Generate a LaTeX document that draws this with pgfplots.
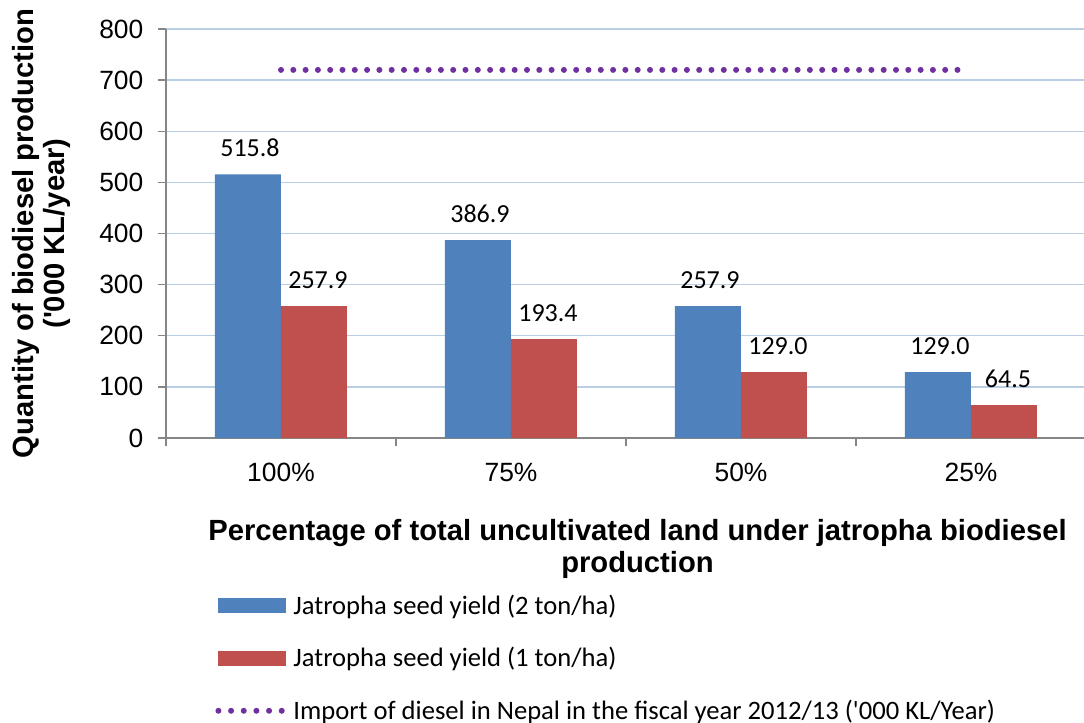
\documentclass[border=0pt]{standalone}
\usepackage{fontspec}
\setmainfont{Liberation Sans}
\newfontfamily\calib{Carlito}
\usepackage{pgfplots}
\pgfplotsset{compat=1.18}
\definecolor{barblue}{RGB}{79,129,189}
\definecolor{barred}{RGB}{192,80,77}
\definecolor{dotpurple}{RGB}{112,48,160}
\definecolor{gridblue}{RGB}{185,205,229}
\definecolor{axgray}{RGB}{134,134,134}
\begin{document}
\begin{tikzpicture}
\useasboundingbox (-83pt,-142.5pt) rectangle (459pt,219pt);
\begin{axis}[
  at={(0,0)}, anchor=south west,
  scale only axis, width=460pt, height=204.5pt,
  ymin=0, ymax=800, ytick={0,100,...,800},
  xmin=-0.5, xmax=3.5,
  xtick={-0.5,0.5,1.5,2.5,3.5},
  x tick label as interval,
  xticklabels={100\%,75\%,50\%,25\%},
  axis x line*=bottom, axis y line*=left,
  axis line style={axgray, line width=0.8pt},
  tick align=outside, major tick length=4pt,
  tick style={axgray, line width=0.7pt},
  ymajorgrids, grid style={gridblue, line width=0.7pt},
  ticklabel style={font=\fontsize{13.2}{15}\selectfont},
  /pgf/number format/assume math mode=true,
  xticklabel style={yshift=-5pt},
  yticklabel style={xshift=-3.8pt},
  xlabel={Percentage of total uncultivated land under jatropha biodiesel\\production},
  xlabel style={font=\bfseries\fontsize{14.6}{16}\selectfont, align=center, at={(axis description cs:0.5125,-0.2714)}, anchor=center},
  ylabel={Quantity of biodiesel production\\(\textquotesingle000 KL/year)},
  ylabel style={font=\bfseries\fontsize{14.6}{15.5}\selectfont, align=center, at={(axis description cs:-0.1359,0.5)}, anchor=center, rotate=0},
  legend style={at={(axis description cs:0.0533,-0.382)}, anchor=north west, draw=none, fill=none, inner sep=0pt,
    font=\calib\fontsize{13.3}{16}\selectfont, row sep=15pt, column sep=0pt,
    nodes={inner xsep=3.5pt, inner ysep=0pt}},
  legend cell align=left,
]
\addplot[ybar, bar width=33pt, bar shift=-16.5pt, fill=barblue, draw=none,
  nodes near coords={\pgfmathprintnumber[fixed,fixed zerofill,precision=1]{\pgfplotspointmeta}},
  every node near coord/.append style={font=\calib\fontsize{13}{15}\selectfont, anchor=base, yshift=9pt, xshift=-15.5pt, inner sep=0pt, text=black},
  legend image code/.code={\fill[barblue] (0pt,-3.75pt) rectangle (34pt,3.75pt);}]
  coordinates {(0,515.8) (1,386.9) (2,257.9) (3,129.0)};
\addlegendentry{Jatropha seed yield (2 ton/ha)}
\addplot[ybar, bar width=33pt, bar shift=16.5pt, fill=barred, draw=none,
  nodes near coords={\pgfmathprintnumber[fixed,fixed zerofill,precision=1]{\pgfplotspointmeta}},
  every node near coord/.append style={font=\calib\fontsize{13}{15}\selectfont, anchor=base, yshift=9pt, xshift=18.5pt, inner sep=0pt, text=black},
  legend image code/.code={\fill[barred] (0pt,-3.75pt) rectangle (34pt,3.75pt);}]
  coordinates {(0,257.9) (1,193.4) (2,129.0) (3,64.5)};
\addlegendentry{Jatropha seed yield (1 ton/ha)}
\addplot[sharp plot, dotpurple, line width=3pt, line cap=round, dash pattern=on 0pt off 6.15pt,
  legend image code/.code={\draw[dotpurple, line width=3pt, line cap=round, dash pattern=on 0pt off 6.33pt] (0pt,0pt) -- (32pt,0pt);}]
  coordinates {(0,720) (2.99,720)};
\addlegendentry{Import of diesel in Nepal in the fiscal year 2012/13 (\textquotesingle000 KL/Year)}
\end{axis}
\end{tikzpicture}
\end{document}
